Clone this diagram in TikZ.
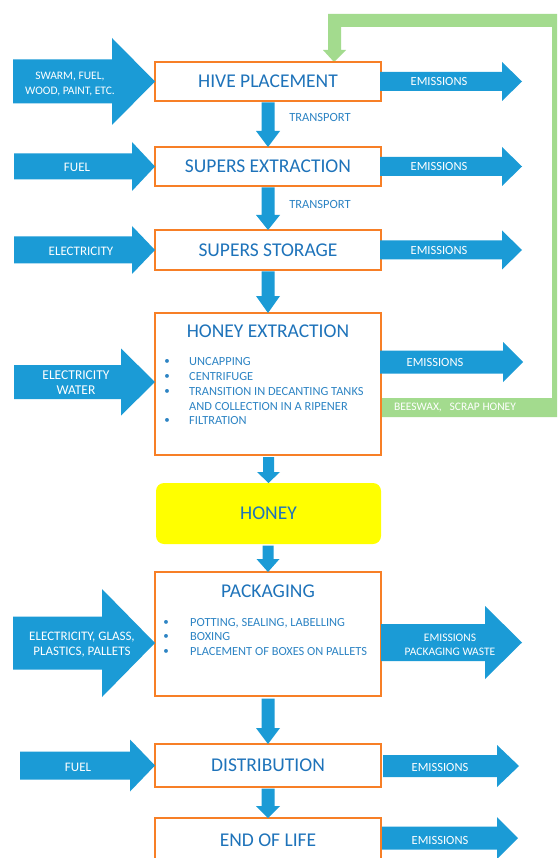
\documentclass[tikz,border=0pt]{standalone}
\usepackage{fontspec}
\setmainfont{Carlito}

\definecolor{flowblue}{RGB}{27,155,214}
\definecolor{boxorange}{RGB}{247,127,38}
\definecolor{titleblue}{RGB}{30,115,186}
\definecolor{itemblue}{RGB}{45,132,196}
\definecolor{loopgreen}{RGB}{163,219,142}
\definecolor{honeyyellow}{RGB}{255,255,0}

\tikzset{
  flow/.style={fill=flowblue},
  stage/.style={draw=boxorange, line width=2.5pt, fill=white, minimum width=226pt,
    inner sep=0pt, outer sep=0pt, text=titleblue, font=\fontsize{19.5}{22}\selectfont},
  stagetitle/.style={text=titleblue, inner sep=0pt, font=\fontsize{19.5}{22}\selectfont},
  flowlabel/.style={text=white, align=center, inner sep=0pt, font=\fontsize{12.5}{15}\selectfont},
  steplabel/.style={text=itemblue, inner sep=0pt, font=\fontsize{12.5}{15}\selectfont},
  item/.style={text=itemblue, anchor=west, inner sep=0pt, font=\fontsize{12.4}{14}\selectfont},
  itemdot/.style={text=itemblue, inner sep=0pt, font=\fontsize{11}{12}\selectfont}
}

% block arrow pointing right: tip, length, body half, head half, head length
\newcommand{\rightflow}[5]{\fill[flow] (#1) -- ++(-#5,#4) -- ++(0,#3-#4) -- ++(#5-#2,0)
  -- ++(0,-2*#3) -- ++(#2-#5,0) -- ++(0,#3-#4) -- cycle;}
% block arrow pointing down: tip, length, body half, head half, head length
\newcommand{\downflow}[5]{\fill[flow] (#1) -- ++(#4,-#5) -- ++(#3-#4,0) -- ++(0,#5-#2)
  -- ++(-2*#3,0) -- ++(0,#2-#5) -- ++(#3-#4,0) -- cycle;}

\begin{document}
\begin{tikzpicture}[x=1pt,y=-1pt]
    \useasboundingbox (0,0) rectangle (557,858);
    \clip (0,0) rectangle (557,858);
    \fill[white] (0,0) rectangle (557,858);

    % beeswax loop back to the hive
    \fill[loopgreen] (323,50) -- (328,50) -- (328,14) -- (565,14) -- (565,417) -- (382,417)
        -- (382,398) -- (552,398) -- (552,27) -- (341,27) -- (341,50) -- (346,50) -- (334,62) -- cycle;
    \node[text=white, inner sep=0pt, font=\fontsize{11.5}{13}\selectfont] (byprod) at (455,408) {BEESWAX,\ \ \ SCRAP HONEY};

    % stages
    \node[stage, minimum height=39pt] (hive) at (268,81.5) {HIVE PLACEMENT};
    \node[stage, minimum height=39pt] (supext) at (268,166.5) {SUPERS EXTRACTION};
    \node[stage, minimum height=40pt] (supsto) at (268,250) {SUPERS STORAGE};
    \node[stage, minimum height=142pt] (honext) at (268,384) {};
    \node[stage, draw=none, fill=honeyyellow, rounded corners=8pt, minimum width=225pt,
        minimum height=61pt] (honey) at (268.5,513.5) {HONEY};
    \node[stage, minimum height=124pt] (pack) at (268,634) {};
    \node[stage, minimum height=43pt] (distr) at (268,765.5) {DISTRIBUTION};
    \node[stage, minimum height=44pt] (eol) at (268,840) {END OF LIFE};

    \node[stagetitle] (honexttitle) at (268,331) {HONEY EXTRACTION};
    \node[stagetitle] (packtitle) at (268,591) {PACKAGING};

    % honey extraction steps
    \node[itemdot] (hdot1) at (167,362) {•};
    \node[itemdot] (hdot2) at (167,377) {•};
    \node[itemdot] (hdot3) at (167,392) {•};
    \node[itemdot] (hdot4) at (167,421) {•};
    \node[item] (hitem1) at (189,362) {UNCAPPING};
    \node[item] (hitem2) at (189,377) {CENTRIFUGE};
    \node[item] (hitem3) at (189,392) {TRANSITION IN DECANTING TANKS};
    \node[item] (hitem4) at (189,407) {AND COLLECTION IN A RIPENER};
    \node[item] (hitem5) at (189,421) {FILTRATION};

    % packaging steps
    \node[itemdot] (pdot1) at (166,623) {•};
    \node[itemdot] (pdot2) at (166,637) {•};
    \node[itemdot] (pdot3) at (166,652) {•};
    \node[item] (pitem1) at (190,623) {POTTING, SEALING, LABELLING};
    \node[item] (pitem2) at (190,637) {BOXING};
    \node[item] (pitem3) at (190,652) {PLACEMENT OF BOXES ON PALLETS};

    % flow between stages
    \downflow{supext.north}{44.5}{6.5}{12}{16}
    \downflow{supsto.north}{42.5}{6.5}{12}{15}
    \downflow{honext.north}{41.5}{6.5}{12}{17}
    \downflow{honey.north}{26}{5.5}{11.5}{11}
    \downflow{pack.north}{26.5}{5.5}{11.5}{13}
    \downflow{distr.north}{45.5}{6.5}{12}{16}
    \downflow{eol.north}{29.5}{6.5}{12}{12}
    \node[steplabel] (trans1) at (320,117) {TRANSPORT};
    \node[steplabel] (trans2) at (320,204) {TRANSPORT};

    % inputs
    \coordinate (honextin) at (155,382);
    \coordinate (packin) at (155,643);
    \rightflow{hive.west}{142}{22}{43.5}{43}
    \rightflow{supext.west}{141}{13}{24.5}{23}
    \rightflow{supsto.west}{141}{13.5}{24}{23}
    \rightflow{honextin}{141}{17}{33.5}{34}
    \rightflow{packin}{142}{26.5}{54}{53}
    \rightflow{distr.west}{135}{14}{26}{25}
    \node[flowlabel, font=\fontsize{11.5}{15}\selectfont] (swarmlbl) at (70,84.5) {SWARM, FUEL,\\WOOD, PAINT, ETC.};
    \node[flowlabel, font=\fontsize{13}{15}\selectfont] (fuellbl) at (77,167) {FUEL};
    \node[flowlabel, font=\fontsize{13}{15}\selectfont] (eleclbl) at (81,251) {ELECTRICITY};
    \node[flowlabel, font=\fontsize{13.5}{15}\selectfont] (waterlbl) at (76,382.5) {ELECTRICITY\\WATER};
    \node[flowlabel, font=\fontsize{13}{15}\selectfont] (glasslbl) at (82,645) {ELECTRICITY, GLASS,\\PLASTICS, PALLETS};
    \node[flowlabel, font=\fontsize{13}{15}\selectfont] (fuel2lbl) at (78,767) {FUEL};

    % outputs
    \coordinate (hiveout) at (522,81.5);
    \coordinate (supextout) at (522,166.5);
    \coordinate (supstoout) at (522,250);
    \coordinate (honextout) at (523,362);
    \coordinate (packout) at (522,642.5);
    \coordinate (distrout) at (519,766);
    \coordinate (eolout) at (518,838);
    \rightflow{hiveout}{142}{9.5}{19.5}{20}
    \rightflow{supextout}{142}{9.5}{19.5}{20}
    \rightflow{supstoout}{142}{9.5}{19.5}{20}
    \rightflow{honextout}{143}{11.5}{20}{20}
    \rightflow{packout}{141}{18.5}{36.5}{37}
    \rightflow{distrout}{136}{11}{21}{22}
    \rightflow{eolout}{136}{11.5}{21}{21}
    \node[flowlabel] (emis1) at (439,81.5) {EMISSIONS};
    \node[flowlabel] (emis2) at (439,166.5) {EMISSIONS};
    \node[flowlabel] (emis3) at (439,250) {EMISSIONS};
    \node[flowlabel] (emis4) at (435,362) {EMISSIONS};
    \node[flowlabel, font=\fontsize{11.5}{14}\selectfont] (emis5) at (450,645) {EMISSIONS\\PACKAGING WASTE};
    \node[flowlabel] (emis6) at (440,767) {EMISSIONS};
    \node[flowlabel] (emis7) at (440,840) {EMISSIONS};
\end{tikzpicture}
\end{document}
